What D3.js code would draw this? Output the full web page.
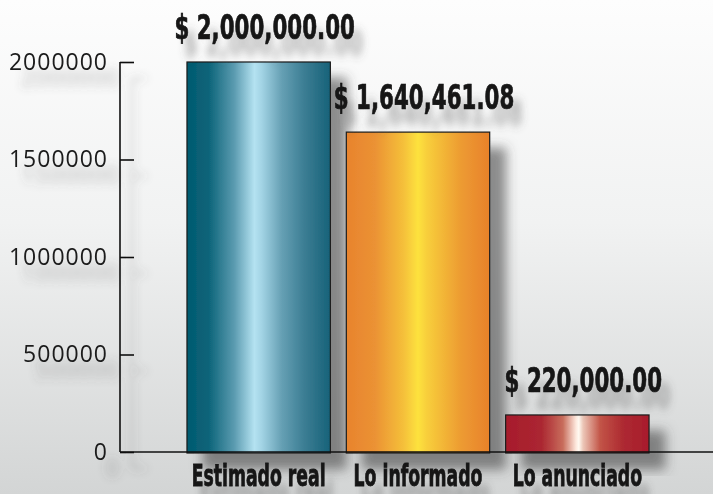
<!DOCTYPE html>
<html>
  <head>
    <meta charset="utf-8">
    <style type="text/css">
      body { margin: 0; overflow: hidden; }
      .tick text { font-family: "Open Sans", sans-serif; font-size: 23px; letter-spacing: 1px; fill: #1a1a1a; }
      .amount { font-family: "DejaVu Sans Condensed", "DejaVu Sans", sans-serif; font-weight: bold; font-size: 33px; fill: #141414; stroke: #141414; stroke-width: 0.7px; }
      .cat { font-family: "DejaVu Sans Condensed", "DejaVu Sans", sans-serif; font-weight: bold; font-size: 30px; fill: #141414; stroke: #141414; stroke-width: 0.8px; }
    </style>
  </head>
  <body>
    <script src="https://d3js.org/d3.v7.min.js"></script>
    <script>
      // data
      var categories = ["Estimado real", "Lo informado", "Lo anunciado"];
      var barValues = [2000000, 1640461.08, 190000];
      var amountLabels = ["$ 2,000,000.00", "$ 1,640,461.08", "$ 220,000.00"];
      var yTicks = [0, 500000, 1000000, 1500000, 2000000];

      // gradient stops per bar (offset, colour)
      var barStops = [
        [[0, "#035a70"], [0.15, "#0b6479"], [0.33, "#5b9bb0"], [0.47, "#b4e2f1"], [0.52, "#a3d4e5"], [0.66, "#66a0b4"], [0.82, "#3b7d93"], [1, "#176279"]],
        [[0, "#e8832d"], [0.2, "#eb9234"], [0.4, "#f5c03a"], [0.5, "#fde23e"], [0.56, "#f8cf3b"], [0.8, "#ed9b32"], [1, "#e8812b"]],
        [[0, "#a71c2c"], [0.25, "#ab2631"], [0.4, "#c86d5c"], [0.49, "#fde7dc"], [0.51, "#fffaf2"], [0.54, "#ecc6b7"], [0.66, "#c25447"], [0.82, "#ad2931"], [1, "#a81c2c"]]
      ];

      var width = 713, height = 494;
      var axisX = 120;

      var svg = d3.select("body").append("svg")
          .attr("width", width)
          .attr("height", height);

      var defs = svg.append("defs");

      var bg = defs.append("linearGradient").attr("id", "bg")
          .attr("x1", 0).attr("y1", 0).attr("x2", 0).attr("y2", 1);
      bg.append("stop").attr("offset", 0).attr("stop-color", "#fdfdfd");
      bg.append("stop").attr("offset", 0.45).attr("stop-color", "#f1f2f2");
      bg.append("stop").attr("offset", 1).attr("stop-color", "#d3d5d5");

      barStops.forEach(function(stops, i) {
        var g = defs.append("linearGradient").attr("id", "bar" + i)
            .attr("x1", 0).attr("y1", 0).attr("x2", 1).attr("y2", 0);
        stops.forEach(function(s) {
          g.append("stop").attr("offset", s[0]).attr("stop-color", s[1]);
        });
      });

      var shadow = defs.append("filter").attr("id", "shadow")
          .attr("x", "-20%").attr("y", "-20%").attr("width", "160%").attr("height", "180%");
      shadow.append("feDropShadow").attr("dx", 16).attr("dy", 16)
          .attr("stdDeviation", 6).attr("flood-color", "#444").attr("flood-opacity", 0.6);

      var tshadow = defs.append("filter").attr("id", "tshadow")
          .attr("x", "-20%").attr("y", "-40%").attr("width", "160%").attr("height", "220%");
      tshadow.append("feDropShadow").attr("dx", 12).attr("dy", 16)
          .attr("stdDeviation", 5).attr("flood-color", "#555").attr("flood-opacity", 0.4);

      svg.append("rect").attr("width", width).attr("height", height).attr("fill", "url(#bg)");

      var x = d3.scaleBand()
          .domain(categories)
          .range([179, 657])
          .paddingInner(0.1)
          .paddingOuter(0.05);

      var y = d3.scaleLinear()
          .domain([0, 2000000])
          .range([452, 62]);

      // y axis
      var yAxis = svg.append("g")
          .attr("transform", "translate(" + axisX + ",0)")
          .attr("filter", "url(#tshadow)")
          .call(d3.axisLeft(y).tickValues(yTicks).tickFormat(d3.format("d"))
            .tickSizeInner(-14).tickSizeOuter(0).tickPadding(12));
      yAxis.selectAll("line, path").attr("stroke", "#111").attr("stroke-width", 1.6);
      yAxis.select(".domain").remove();
      yAxis.append("line")
          .attr("y1", y(0)).attr("y2", y(2000000))
          .attr("stroke", "#111").attr("stroke-width", 1.6);

      // bars
      svg.append("g")
          .selectAll("rect")
          .data(barValues)
          .enter()
          .append("rect")
          .attr("x", function(d, i) { return x(categories[i]); })
          .attr("y", function(d) { return y(d); })
          .attr("width", x.bandwidth())
          .attr("height", function(d) { return y(0) - y(d) + 1; })
          .attr("fill", function(d, i) { return "url(#bar" + i + ")"; })
          .attr("stroke", "#1a1a1a")
          .attr("stroke-width", 1.2)
          .attr("filter", "url(#shadow)");

      // baseline
      svg.append("line")
          .attr("x1", axisX).attr("x2", width)
          .attr("y1", y(0)).attr("y2", y(0))
          .attr("stroke", "#111").attr("stroke-width", 1.6);

      // amount labels (squeezed sideways, the original face is very condensed)
      svg.append("g")
          .selectAll("text")
          .data(amountLabels)
          .enter()
          .append("text")
          .attr("class", "amount")
          .attr("filter", "url(#tshadow)")
          .attr("text-anchor", "middle")
          .attr("transform", function(d, i) {
            return "translate(" + (x(categories[i]) + x.bandwidth() / 2 + 6) + "," + (y(barValues[i]) - 23) + ") scale(0.72,1)";
          })
          .text(function(d) { return d; });

      // category labels
      svg.append("g")
          .selectAll("text")
          .data(categories)
          .enter()
          .append("text")
          .attr("class", "cat")
          .attr("filter", "url(#tshadow)")
          .attr("text-anchor", "middle")
          .attr("transform", function(d) {
            return "translate(" + (x(d) + x.bandwidth() / 2) + ",486) scale(0.64,1)";
          })
          .text(function(d) { return d; });
    </script>
  </body>
</html>
